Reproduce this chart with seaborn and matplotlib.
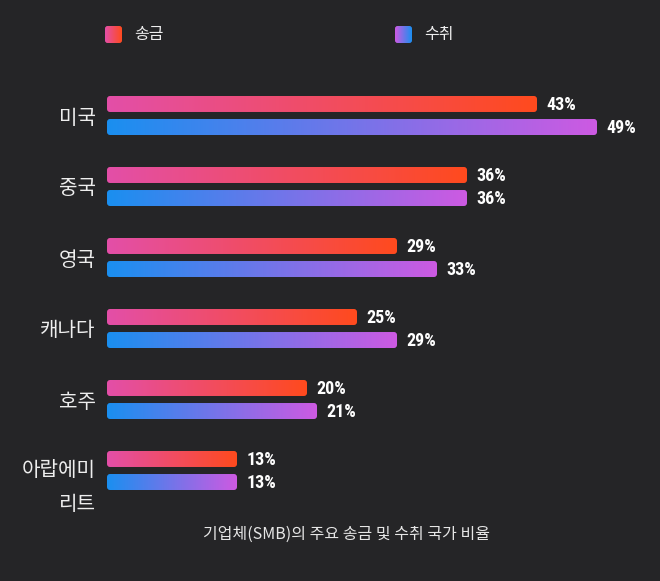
import numpy as np
import pandas as pd
import matplotlib
matplotlib.use("Agg")
import matplotlib.pyplot as plt
import matplotlib.colors as mcolors
from matplotlib import font_manager
from matplotlib.patches import FancyBboxPatch
from matplotlib.transforms import ScaledTranslation
import seaborn as sns

countries = ["미국", "중국", "영국", "캐나다", "호주", "아랍에미리트"]
tick_labels = ["미국", "중국", "영국", "캐나다", "호주", "아랍에미\n리트"]
send = [43, 36, 29, 25, 20, 13]
receive = [49, 36, 33, 29, 21, 13]
series = ["송금", "수취"]
title = "기업체(SMB)의 주요 송금 및 수취 국가 비율"

BG = "#252527"
grad = {
    "송금": ("#e34fa8", "#ff4a1e"),
    "수취": ("#1a8ff0", "#cd5ae2"),
}

sns.set_theme(style="white")
plt.rcParams["font.family"] = ["Noto Sans CJK KR", "DejaVu Sans"]

available = {f.name for f in font_manager.fontManager.ttflist}
num_font = "DejaVu Sans"
for cand in ["Liberation Sans Narrow", "DejaVu Sans Condensed", "Roboto Condensed"]:
    if cand in available:
        num_font = cand
        break
stretch = "normal" if num_font != "DejaVu Sans" else "condensed"

df = pd.DataFrame({
    "country": countries * 2,
    "value": send + receive,
    "series": [series[0]] * len(countries) + [series[1]] * len(countries),
})

fig = plt.figure(figsize=(6.6, 5.81), dpi=100, facecolor=BG)
W, H = 660, 581
ax = fig.add_axes([107 / W, 1 - 506 / H, 520 / W, 426 / H])
ax.set_facecolor(BG)

sns.barplot(data=df, y="country", x="value", hue="series", order=countries,
            hue_order=series, orient="h", width=0.648, gap=0.305,
            palette=["#ff4a1e", "#1a8ff0"], legend=False, ax=ax)

ax.set_xlim(0, 52)
ax.set_ylim(len(countries) - 0.5, -0.5)

def gradient_img(c0, c1, n=256):
    a = np.array(mcolors.to_rgb(c0))
    b = np.array(mcolors.to_rgb(c1))
    t = np.linspace(0, 1, n)[:, None]
    return (a * (1 - t) + b * t)[None, :, :]

containers = ax.containers
for s, cont in zip(series, containers):
    img = gradient_img(*grad[s])
    for rect in cont:
        x0, y0 = rect.get_x(), rect.get_y()
        w, h = rect.get_width(), rect.get_height()
        rect.set_visible(False)
        clip = FancyBboxPatch((x0, y0), w, h,
                              boxstyle="round,pad=0,rounding_size=0.3",
                              mutation_aspect=h / 0.3 * 0.19,
                              transform=ax.transData, facecolor="none",
                              edgecolor="none")
        ax.add_patch(clip)
        im = ax.imshow(img, extent=(x0, x0 + w, y0 + h, y0), aspect="auto",
                       interpolation="bicubic", zorder=3)
        im.set_clip_path(clip)
        ax.text(x0 + w + 0.95, y0 + h / 2 + 0.01, f"{int(round(w))}%",
                color="white", fontsize=13, fontweight="bold",
                family=num_font, fontstretch=stretch,
                ha="left", va="center", zorder=4)

ax.set_xlim(0, 52)
ax.set_ylim(len(countries) - 0.5, -0.5)

ax.set_yticks(range(len(countries)))
ax.set_yticklabels(tick_labels, color="#eeeeee", fontsize=14.5, linespacing=1.85)
ax.tick_params(axis="y", length=0, pad=8)
ax.set_xticks([])
ax.set_xlabel("")
ax.set_ylabel("")
for sp in ax.spines.values():
    sp.set_visible(False)

last = ax.get_yticklabels()[-1]
last.set_va("top")
last.set_transform(last.get_transform() + ScaledTranslation(0, 11 / 100, fig.dpi_scale_trans))

leg_items = [(series[0], 105, grad[series[0]]), (series[1], 395, grad[series[1]][::-1])]
for name, px, (c0, c1) in leg_items:
    sax = fig.add_axes([px / W, 1 - 43 / H, 17 / W, 17 / H])
    sax.set_axis_off()
    sax.set_xlim(0, 1)
    sax.set_ylim(1, 0)
    clip = FancyBboxPatch((0, 0), 1, 1, boxstyle="round,pad=0,rounding_size=0.15",
                          transform=sax.transData, facecolor="none", edgecolor="none")
    sax.add_patch(clip)
    im = sax.imshow(gradient_img(c0, c1), extent=(0, 1, 1, 0), aspect="auto",
                    interpolation="bicubic")
    im.set_clip_path(clip)
    fig.text((px + 29) / W, 1 - 34 / H, name, color="#eeeeee", fontsize=11.5,
             ha="left", va="center")

fig.text(346 / W, 1 - 534 / H, title, color="#e6e6e6", fontsize=11.5,
         ha="center", va="center")

fig.savefig("out.png", dpi=100, facecolor=BG)
